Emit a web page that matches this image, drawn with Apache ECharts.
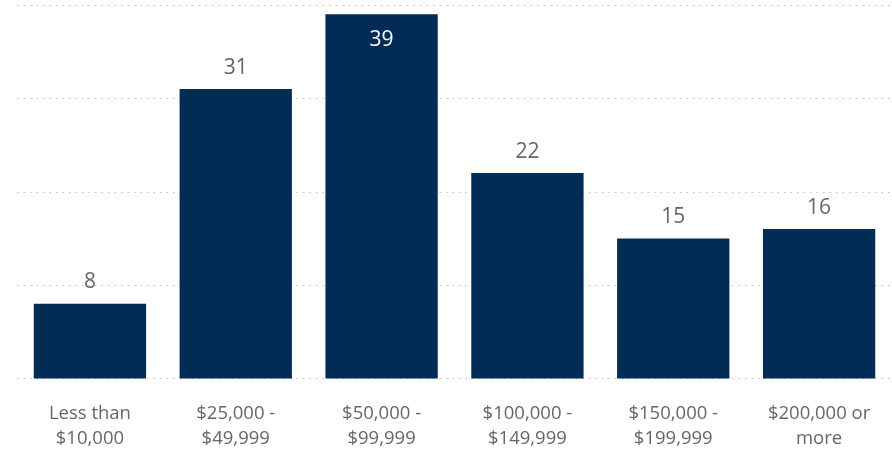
<!DOCTYPE html>
<html>
<head>
<meta charset="utf-8">
<style>
  html, body { margin: 0; padding: 0; background: #ffffff; }
  #chart { width: 892px; height: 457px; }
</style>
<script src="https://cdn.jsdelivr.net/npm/echarts@6/dist/echarts.min.js"></script>
</head>
<body>
<div id="chart"></div>
<script>
// Household income brackets and counts
const categories = [
  'Less than\n$10,000',
  '$25,000 -\n$49,999',
  '$50,000 -\n$99,999',
  '$100,000 -\n$149,999',
  '$150,000 -\n$199,999',
  '$200,000 or\nmore'
];
const counts = [8, 31, 39, 22, 15, 16];

const axisMin = 0;
const axisMax = 40;
const axisStep = 10;

const barColor = '#022b55';
const textColor = '#666666';
const fontFamily = '"Open Sans", "Noto Sans", sans-serif';

const chart = echarts.init(document.getElementById('chart'), null, { renderer: 'canvas' });

// The tallest bar carries its label inside, in white; the rest sit above
const tallest = Math.max.apply(null, counts);
const seriesData = counts.map(function (v) {
  return {
    value: v,
    label: v === tallest
      ? { position: 'insideTop', distance: 15, color: '#ffffff' }
      : { position: 'top', distance: 11, color: textColor }
  };
});

chart.setOption({
  animation: false,
  backgroundColor: '#ffffff',
  grid: { left: 17, right: 0, top: 5, bottom: 78.5, containLabel: false },
  xAxis: {
    type: 'category',
    data: categories,
    axisLine: { show: false },
    axisTick: { show: false },
    axisLabel: {
      color: textColor,
      fontFamily: fontFamily,
      fontSize: 18.5,
      lineHeight: 25,
      margin: 23,
      interval: 0
    }
  },
  yAxis: {
    type: 'value',
    min: axisMin,
    max: axisMax,
    interval: axisStep,
    axisLine: { show: false },
    axisTick: { show: false },
    axisLabel: { show: false },
    splitLine: {
      show: true,
      lineStyle: { color: '#bdbdbd', width: 1.2, type: [1.5, 5] }
    }
  },
  series: [{
    type: 'bar',
    data: seriesData,
    barCategoryGap: '23%',
    itemStyle: { color: barColor },
    label: {
      show: true,
      fontFamily: fontFamily,
      fontSize: 21
    }
  }]
});
</script>
</body>
</html>
